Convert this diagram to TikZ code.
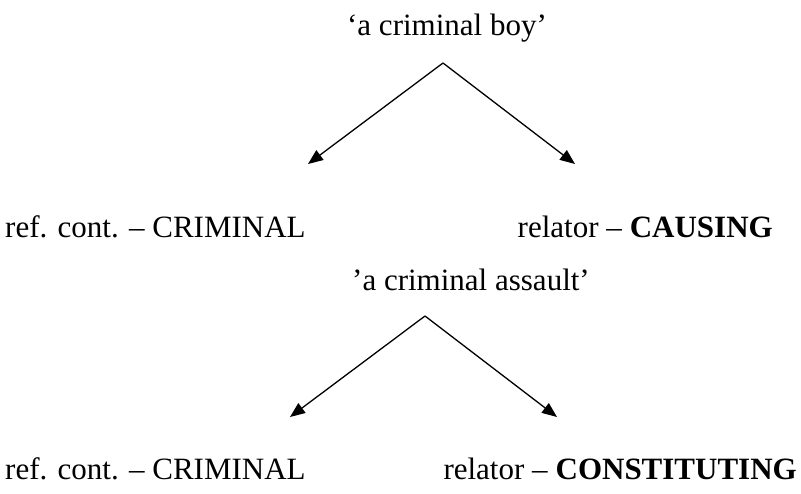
\documentclass[tikz,border=0pt]{standalone}
\usepackage{fontspec}
\setmainfont{Liberation Serif}
\usetikzlibrary{arrows.meta}
\begin{document}
\begin{tikzpicture}[x=1pt,y=-1pt,
  lbl/.style={inner sep=0pt, font=\fontsize{31}{36}\selectfont},
  arr/.style={line width=1.3pt, -{Triangle[length=15pt,width=12pt]}}]
\useasboundingbox (0,0) rectangle (801,493);
% first tree
\node[lbl, anchor=base] (t1) at (447,35) {‘a criminal boy’};
\coordinate (a1) at (443,63);
\coordinate (l1) at (308,164);
\coordinate (r1) at (575,164);
\draw[arr] (a1) -- (l1);
\draw[arr] (a1) -- (r1);
\node[lbl, anchor=base west] (ref1) at (5,237) {ref. cont. – CRIMINAL};
\node[lbl, anchor=base east] (rel1) at (773,237) {relator – \textbf{CAUSING}};
% second tree
\node[lbl, anchor=base west] (t2) at (352,290) {’a criminal assault’};
\coordinate (a2) at (425,316);
\coordinate (l2) at (290,417);
\coordinate (r2) at (557,417);
\draw[arr] (a2) -- (l2);
\draw[arr] (a2) -- (r2);
\node[lbl, anchor=base west] (ref2) at (5,479) {ref. cont. – CRIMINAL};
\node[lbl, anchor=base east] (rel2) at (797,479) {relator – \textbf{CONSTITUTING}};
\end{tikzpicture}
\end{document}
